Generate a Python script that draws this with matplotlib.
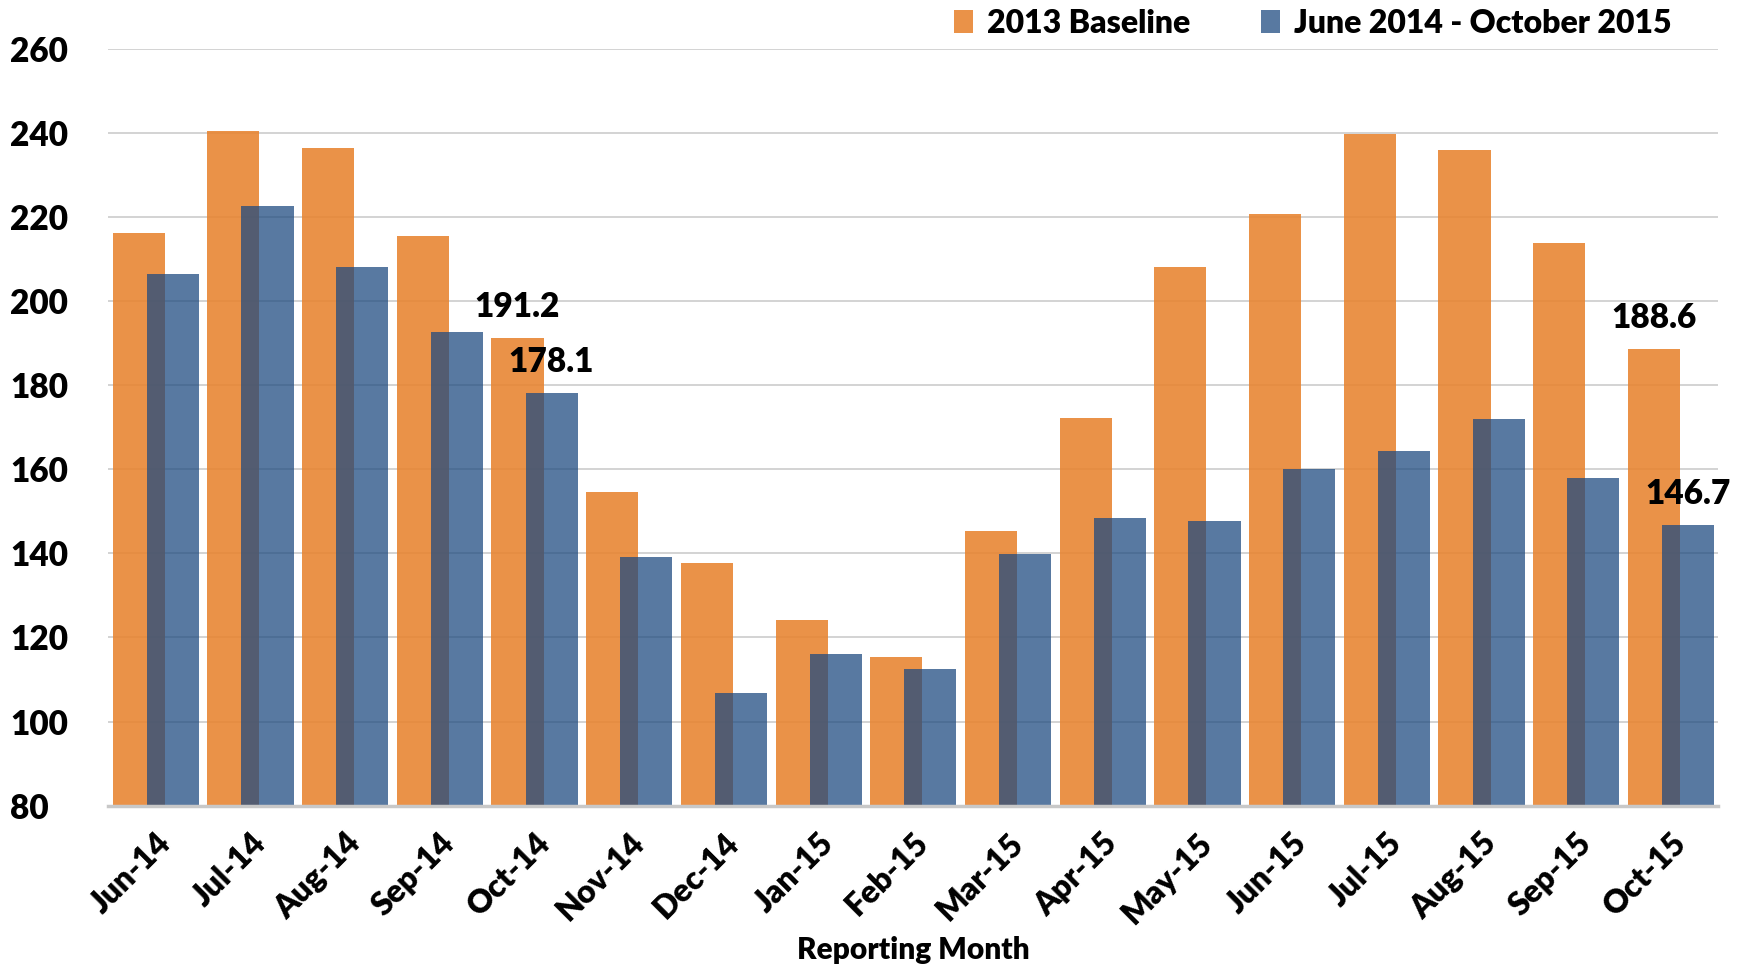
import matplotlib
matplotlib.use("Agg")
import matplotlib.pyplot as plt
import matplotlib.transforms as mtransforms
import numpy as np
from matplotlib.patches import Patch

months = ["Jun-14", "Jul-14", "Aug-14", "Sep-14", "Oct-14", "Nov-14", "Dec-14",
          "Jan-15", "Feb-15", "Mar-15", "Apr-15", "May-15", "Jun-15", "Jul-15",
          "Aug-15", "Sep-15", "Oct-15"]
baseline_2013 = [216.1, 240.3, 236.3, 215.5, 191.2, 154.6, 137.8, 124.2, 115.4,
                 145.3, 172.1, 208.1, 220.6, 239.8, 235.8, 213.7, 188.6]
period_values = [206.5, 222.5, 208.1, 192.6, 178.1, 139.1, 106.9, 116.0, 112.5,
                 139.9, 148.4, 147.6, 160.0, 164.4, 171.9, 157.9, 146.7]
series_names = ["2013 Baseline", "June 2014 - October 2015"]
y_ticks = [80, 100, 120, 140, 160, 180, 200, 220, 240, 260]
labelled = [4, 16]

plt.rcParams['font.family'] = ['Lato', 'DejaVu Sans']
plt.rcParams['font.weight'] = 'bold'

W, H = 1748, 973
fig = plt.figure(figsize=(W / 100, H / 100), dpi=100)
ax = fig.add_axes([0.062, 0.172, 0.921, 0.778])

orange = "#E8832F"
blue = "#1E4A80"
x = np.arange(len(months))
bw = 0.55
off = 0.18

ax.bar(x - off, baseline_2013, width=bw, color=orange, alpha=0.88, zorder=2,
       edgecolor="none")
ax.bar(x + off, period_values, width=bw, color=blue, alpha=0.74, zorder=3,
       edgecolor="none")

ax.set_ylim(80, 260)
ax.set_xlim(-0.5, len(months) - 0.5)
ax.set_yticks(y_ticks)
ax.set_yticklabels([str(v) for v in y_ticks], fontsize=24, fontweight='heavy')
ax.yaxis.grid(True, color="#D0D0D0", linewidth=1.3, zorder=1)
ax.set_axisbelow(True)
for s in ["top", "right", "left"]:
    ax.spines[s].set_visible(False)
ax.spines["bottom"].set_color("#C8C8C8")
ax.spines["bottom"].set_linewidth(2.5)
ax.spines["bottom"].set_zorder(4)
ax.tick_params(axis='both', length=0)
ax.set_xticks(x)
ax.set_xticklabels(months, rotation=45, ha='right', rotation_mode='anchor',
                   fontsize=23, fontweight='heavy')
ax.tick_params(axis='x', pad=16)
ax.yaxis.set_tick_params(pad=0)
for lab in ax.get_yticklabels():
    lab.set_horizontalalignment('left')
    lab.set_transform(lab.get_transform() + mtransforms.ScaledTranslation(-98 / 100, 0, fig.dpi_scale_trans))

ax.set_xlabel("Reporting Month", fontsize=21.5, fontweight='heavy', labelpad=5)

for i in labelled:
    ax.annotate(f"{baseline_2013[i]:.1f}", (x[i] - off, baseline_2013[i]),
                xytext=(0, 11), textcoords='offset points', ha='center', va='bottom',
                fontsize=24, fontweight='heavy')
    ax.annotate(f"{period_values[i]:.1f}", (x[i] + off, period_values[i]),
                xytext=(0, 11), textcoords='offset points', ha='center', va='bottom',
                fontsize=24, fontweight='heavy')

handles = [Patch(facecolor=orange, alpha=0.88), Patch(facecolor=blue, alpha=0.74)]
fig.legend(handles, series_names, loc='center', bbox_to_anchor=(0.751, 0.976),
           ncol=2, frameon=False, handlelength=0.6, handleheight=0.7,
           handletextpad=0.45, columnspacing=2.2, prop={'weight': 'heavy', 'size': 23})

fig.savefig("out.png", dpi=100)
